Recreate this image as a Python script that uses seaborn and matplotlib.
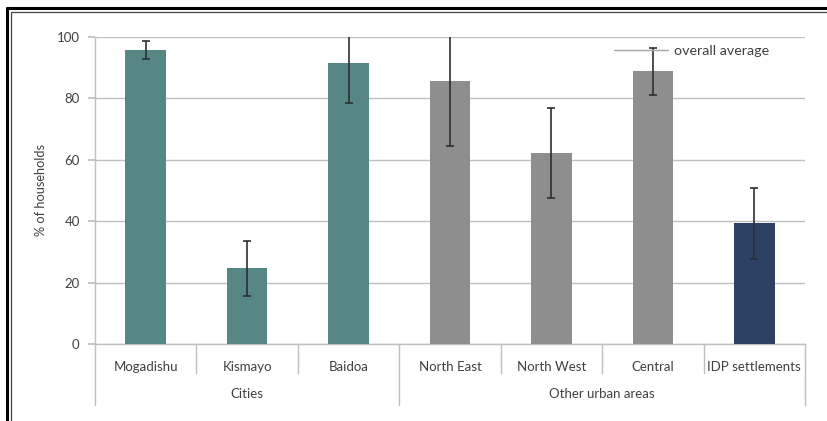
import matplotlib
matplotlib.use("Agg")
import matplotlib.pyplot as plt
from matplotlib.lines import Line2D
import seaborn as sns
import pandas as pd

# Share of households, with confidence intervals
categories = ["Mogadishu", "Kismayo", "Baidoa", "North East", "North West", "Central", "IDP settlements"]
groups = ["Cities", "Cities", "Cities", "Other urban areas", "Other urban areas", "Other urban areas", "IDP"]
values = [95.8, 24.7, 91.4, 85.7, 62.1, 88.8, 39.3]
errors = [2.9, 9.0, 13.0, 21.3, 14.7, 7.6, 11.6]
group_labels = ["Cities", "Other urban areas"]
yticks = [0, 20, 40, 60, 80, 100]

palette = {"Cities": "#4E8F8B", "Other urban areas": "#8E8E8E", "IDP": "#243F6E"}

df = pd.DataFrame({"category": categories, "group": groups, "value": values, "err": errors})

sns.set_theme(style="white")
plt.rcParams["font.family"] = ["Lato", "DejaVu Sans"]
text_color = "#404040"
fs = 9.5

fig = plt.figure(figsize=(8.27, 4.21), dpi=100)
ax = fig.add_axes([95 / 827, 1 - 344 / 421, 710 / 827, 307 / 421])

sns.barplot(data=df, x="category", y="value", hue="group", palette=palette,
            dodge=False, width=0.4, errorbar=None, legend=False, ax=ax, zorder=3,
            linewidth=0)

xpos = range(len(categories))
ax.errorbar(list(xpos), df["value"], yerr=df["err"], fmt="none", ecolor="#2b3030",
            elinewidth=1.2, capsize=2.8, capthick=1.2, zorder=4)

ax.set_xlim(-0.5, len(categories) - 0.5)
ax.set_ylim(0, 100)
ax.set_yticks(yticks)
ax.yaxis.grid(True, color="#BFBFBF", linewidth=1)
ax.set_axisbelow(True)
for s in ["top", "right"]:
    ax.spines[s].set_visible(False)
for s in ["left", "bottom"]:
    ax.spines[s].set_color("#BFBFBF")
    ax.spines[s].set_linewidth(1)
ax.tick_params(axis="y", which="both", left=True, length=5, color="#BFBFBF",
               labelsize=fs, labelcolor=text_color, pad=6)
ax.tick_params(axis="x", bottom=False, labelbottom=False)
ax.set_xlabel("")
ax.set_ylabel("% of households", fontsize=9.2, color=text_color, labelpad=7)

# category labels and separators below the axis
trans = ax.get_xaxis_transform()
for i, name in enumerate(categories):
    ax.text(i, -0.075, name, transform=trans, ha="center", va="center",
            fontsize=fs, color=text_color)
for b in range(len(categories) + 1):
    x = b - 0.5
    low = -0.199 if x in (-0.5, 2.5, len(categories) - 0.5) else -0.095
    ax.plot([x, x], [0, low], transform=trans, color="#BFBFBF", lw=1, clip_on=False)
ax.text(1, -0.163, group_labels[0], transform=trans, ha="center", va="center",
        fontsize=fs, color=text_color)
ax.text(4.5, -0.163, group_labels[1], transform=trans, ha="center", va="center",
        fontsize=fs, color=text_color)

ax.legend(handles=[Line2D([], [], color="#A6A6A6", lw=1)], labels=["overall average"],
          frameon=False, loc="center left", bbox_to_anchor=(614 / 827, 1 - 51 / 421),
          bbox_transform=fig.transFigure, borderpad=0, borderaxespad=0,
          handlelength=3.8, handletextpad=0.4, fontsize=10.3, labelcolor=text_color)

# page border (top and left double rule)
fig.add_artist(Line2D([7 / 827, 1], [1 - 8 / 421, 1 - 8 / 421], color="black", lw=2.2))
fig.add_artist(Line2D([10.5 / 827, 1], [1 - 11.5 / 421, 1 - 11.5 / 421], color="#444444", lw=0.9))
fig.add_artist(Line2D([7 / 827, 7 / 827], [0, 1 - 8 / 421], color="black", lw=2.2))
fig.add_artist(Line2D([10.5 / 827, 10.5 / 827], [0, 1 - 11.5 / 421], color="#444444", lw=0.9))

fig.savefig("out.png", dpi=100)
